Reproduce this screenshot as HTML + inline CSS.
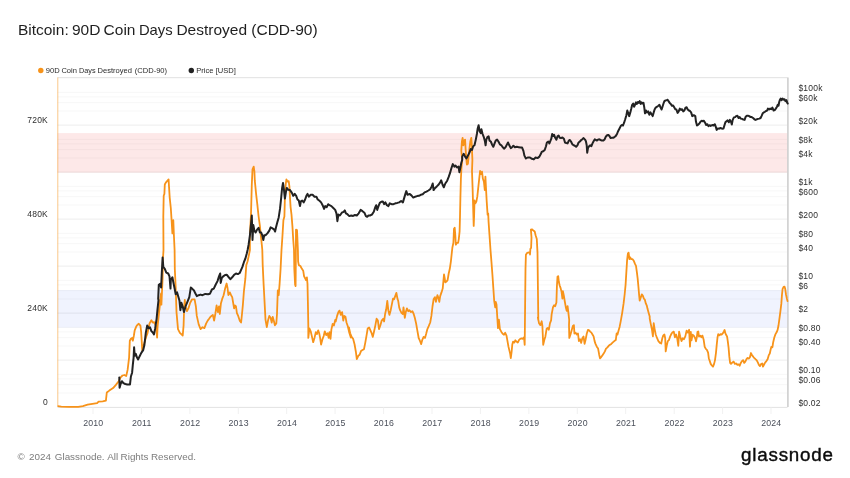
<!DOCTYPE html>
<html><head><meta charset="utf-8"><title>Bitcoin: 90D Coin Days Destroyed (CDD-90)</title>
<style>
html,body{margin:0;padding:0;background:#fff;}
body{width:850px;height:478px;overflow:hidden;position:relative;font-family:"Liberation Sans",sans-serif;}
svg text{font-family:"Liberation Sans",sans-serif;}
.title{font-size:15.5px;fill:#1f1f1f;}
.lg{font-size:7.55px;fill:#2a2a2a;}
.xl{font-size:8.75px;fill:#4a4f5a;letter-spacing:0.18px;}
.yl{font-size:8.5px;fill:#2e2e2e;letter-spacing:0.22px;}
.foot{font-size:9.85px;fill:#7c7c7c;}
.logo{font-size:18.8px;fill:#0c0c0c;letter-spacing:0.8px;stroke:#0c0c0c;stroke-width:0.4px;}
</style></head><body>
<svg width="850" height="478" viewBox="0 0 850 478" style="position:absolute;left:0;top:0">
<rect width="850" height="478" fill="#fff"/>
<defs><clipPath id="pc"><rect x="57.5" y="75.5" width="732.0" height="332.5"/></clipPath></defs>
<rect x="57.5" y="133.1" width="730.0" height="39.5" fill="#fde8e8"/>
<rect x="57.5" y="290.1" width="730.0" height="37.5" fill="#f0f3fe"/>
<line x1="57.5" x2="787.5" y1="92.3" y2="92.3" stroke="#000" stroke-opacity="0.035" stroke-width="1"/>
<line x1="57.5" x2="787.5" y1="96.9" y2="96.9" stroke="#000" stroke-opacity="0.035" stroke-width="1"/>
<line x1="57.5" x2="787.5" y1="102.7" y2="102.7" stroke="#000" stroke-opacity="0.035" stroke-width="1"/>
<line x1="57.5" x2="787.5" y1="111.0" y2="111.0" stroke="#000" stroke-opacity="0.035" stroke-width="1"/>
<line x1="57.5" x2="787.5" y1="125.2" y2="125.2" stroke="#000" stroke-opacity="0.035" stroke-width="1"/>
<line x1="57.5" x2="787.5" y1="139.3" y2="139.3" stroke="#000" stroke-opacity="0.035" stroke-width="1"/>
<line x1="57.5" x2="787.5" y1="143.9" y2="143.9" stroke="#000" stroke-opacity="0.035" stroke-width="1"/>
<line x1="57.5" x2="787.5" y1="149.7" y2="149.7" stroke="#000" stroke-opacity="0.035" stroke-width="1"/>
<line x1="57.5" x2="787.5" y1="158.0" y2="158.0" stroke="#000" stroke-opacity="0.035" stroke-width="1"/>
<line x1="57.5" x2="787.5" y1="172.2" y2="172.2" stroke="#000" stroke-opacity="0.035" stroke-width="1"/>
<line x1="57.5" x2="787.5" y1="186.3" y2="186.3" stroke="#000" stroke-opacity="0.035" stroke-width="1"/>
<line x1="57.5" x2="787.5" y1="190.9" y2="190.9" stroke="#000" stroke-opacity="0.035" stroke-width="1"/>
<line x1="57.5" x2="787.5" y1="196.7" y2="196.7" stroke="#000" stroke-opacity="0.035" stroke-width="1"/>
<line x1="57.5" x2="787.5" y1="205.0" y2="205.0" stroke="#000" stroke-opacity="0.035" stroke-width="1"/>
<line x1="57.5" x2="787.5" y1="219.2" y2="219.2" stroke="#000" stroke-opacity="0.035" stroke-width="1"/>
<line x1="57.5" x2="787.5" y1="233.3" y2="233.3" stroke="#000" stroke-opacity="0.035" stroke-width="1"/>
<line x1="57.5" x2="787.5" y1="237.9" y2="237.9" stroke="#000" stroke-opacity="0.035" stroke-width="1"/>
<line x1="57.5" x2="787.5" y1="243.7" y2="243.7" stroke="#000" stroke-opacity="0.035" stroke-width="1"/>
<line x1="57.5" x2="787.5" y1="252.0" y2="252.0" stroke="#000" stroke-opacity="0.035" stroke-width="1"/>
<line x1="57.5" x2="787.5" y1="266.2" y2="266.2" stroke="#000" stroke-opacity="0.035" stroke-width="1"/>
<line x1="57.5" x2="787.5" y1="280.3" y2="280.3" stroke="#000" stroke-opacity="0.035" stroke-width="1"/>
<line x1="57.5" x2="787.5" y1="284.9" y2="284.9" stroke="#000" stroke-opacity="0.035" stroke-width="1"/>
<line x1="57.5" x2="787.5" y1="290.7" y2="290.7" stroke="#000" stroke-opacity="0.035" stroke-width="1"/>
<line x1="57.5" x2="787.5" y1="299.0" y2="299.0" stroke="#000" stroke-opacity="0.035" stroke-width="1"/>
<line x1="57.5" x2="787.5" y1="313.2" y2="313.2" stroke="#000" stroke-opacity="0.035" stroke-width="1"/>
<line x1="57.5" x2="787.5" y1="327.3" y2="327.3" stroke="#000" stroke-opacity="0.035" stroke-width="1"/>
<line x1="57.5" x2="787.5" y1="331.9" y2="331.9" stroke="#000" stroke-opacity="0.035" stroke-width="1"/>
<line x1="57.5" x2="787.5" y1="337.7" y2="337.7" stroke="#000" stroke-opacity="0.035" stroke-width="1"/>
<line x1="57.5" x2="787.5" y1="346.0" y2="346.0" stroke="#000" stroke-opacity="0.035" stroke-width="1"/>
<line x1="57.5" x2="787.5" y1="360.2" y2="360.2" stroke="#000" stroke-opacity="0.035" stroke-width="1"/>
<line x1="57.5" x2="787.5" y1="374.3" y2="374.3" stroke="#000" stroke-opacity="0.035" stroke-width="1"/>
<line x1="57.5" x2="787.5" y1="378.9" y2="378.9" stroke="#000" stroke-opacity="0.035" stroke-width="1"/>
<line x1="57.5" x2="787.5" y1="384.7" y2="384.7" stroke="#000" stroke-opacity="0.035" stroke-width="1"/>
<line x1="57.5" x2="787.5" y1="393.0" y2="393.0" stroke="#000" stroke-opacity="0.035" stroke-width="1"/>
<line x1="57.5" x2="787.5" y1="360.0" y2="360.0" stroke="#000" stroke-opacity="0.04" stroke-width="1"/>
<line x1="57.5" x2="787.5" y1="313.0" y2="313.0" stroke="#000" stroke-opacity="0.04" stroke-width="1"/>
<line x1="57.5" x2="787.5" y1="266.0" y2="266.0" stroke="#000" stroke-opacity="0.04" stroke-width="1"/>
<line x1="57.5" x2="787.5" y1="219.0" y2="219.0" stroke="#000" stroke-opacity="0.04" stroke-width="1"/>
<line x1="57.5" x2="787.5" y1="172.0" y2="172.0" stroke="#000" stroke-opacity="0.04" stroke-width="1"/>
<line x1="57.5" x2="787.5" y1="125.0" y2="125.0" stroke="#000" stroke-opacity="0.04" stroke-width="1"/>
<line x1="57.5" x2="787.5" y1="78.0" y2="78.0" stroke="#000" stroke-opacity="0.04" stroke-width="1"/>
<line x1="57.5" x2="787.5" y1="77.5" y2="77.5" stroke="#e6e6e6" stroke-width="1"/>
<line x1="57.5" x2="787.5" y1="407.4" y2="407.4" stroke="#e2e2e2" stroke-width="1"/>
<line x1="787.9" x2="787.9" y1="77.5" y2="407.0" stroke="#cfcfcf" stroke-width="1.6"/>
<line x1="93.0" x2="93.0" y1="407.5" y2="414.0" stroke="#f1f1f1" stroke-width="1"/>
<text x="93.3" y="426.1" text-anchor="middle" class="xl">2010</text>
<line x1="141.4" x2="141.4" y1="407.5" y2="414.0" stroke="#f1f1f1" stroke-width="1"/>
<text x="141.7" y="426.1" text-anchor="middle" class="xl">2011</text>
<line x1="189.9" x2="189.9" y1="407.5" y2="414.0" stroke="#f1f1f1" stroke-width="1"/>
<text x="190.2" y="426.1" text-anchor="middle" class="xl">2012</text>
<line x1="238.3" x2="238.3" y1="407.5" y2="414.0" stroke="#f1f1f1" stroke-width="1"/>
<text x="238.6" y="426.1" text-anchor="middle" class="xl">2013</text>
<line x1="286.7" x2="286.7" y1="407.5" y2="414.0" stroke="#f1f1f1" stroke-width="1"/>
<text x="287.0" y="426.1" text-anchor="middle" class="xl">2014</text>
<line x1="335.1" x2="335.1" y1="407.5" y2="414.0" stroke="#f1f1f1" stroke-width="1"/>
<text x="335.4" y="426.1" text-anchor="middle" class="xl">2015</text>
<line x1="383.6" x2="383.6" y1="407.5" y2="414.0" stroke="#f1f1f1" stroke-width="1"/>
<text x="383.9" y="426.1" text-anchor="middle" class="xl">2016</text>
<line x1="432.0" x2="432.0" y1="407.5" y2="414.0" stroke="#f1f1f1" stroke-width="1"/>
<text x="432.3" y="426.1" text-anchor="middle" class="xl">2017</text>
<line x1="480.4" x2="480.4" y1="407.5" y2="414.0" stroke="#f1f1f1" stroke-width="1"/>
<text x="480.7" y="426.1" text-anchor="middle" class="xl">2018</text>
<line x1="528.9" x2="528.9" y1="407.5" y2="414.0" stroke="#f1f1f1" stroke-width="1"/>
<text x="529.2" y="426.1" text-anchor="middle" class="xl">2019</text>
<line x1="577.3" x2="577.3" y1="407.5" y2="414.0" stroke="#f1f1f1" stroke-width="1"/>
<text x="577.6" y="426.1" text-anchor="middle" class="xl">2020</text>
<line x1="625.7" x2="625.7" y1="407.5" y2="414.0" stroke="#f1f1f1" stroke-width="1"/>
<text x="626.0" y="426.1" text-anchor="middle" class="xl">2021</text>
<line x1="674.2" x2="674.2" y1="407.5" y2="414.0" stroke="#f1f1f1" stroke-width="1"/>
<text x="674.5" y="426.1" text-anchor="middle" class="xl">2022</text>
<line x1="722.6" x2="722.6" y1="407.5" y2="414.0" stroke="#f1f1f1" stroke-width="1"/>
<text x="722.9" y="426.1" text-anchor="middle" class="xl">2023</text>
<line x1="771.0" x2="771.0" y1="407.5" y2="414.0" stroke="#f1f1f1" stroke-width="1"/>
<text x="771.3" y="426.1" text-anchor="middle" class="xl">2024</text>
<text x="48.0" y="123.2" text-anchor="end" class="yl">720K</text>
<text x="48.0" y="217.2" text-anchor="end" class="yl">480K</text>
<text x="48.0" y="311.2" text-anchor="end" class="yl">240K</text>
<text x="48.0" y="405.2" text-anchor="end" class="yl">0</text>
<text x="798.4" y="91.0" class="yl">$100k</text>
<text x="798.4" y="101.4" class="yl">$60k</text>
<text x="798.4" y="123.9" class="yl">$20k</text>
<text x="798.4" y="142.6" class="yl">$8k</text>
<text x="798.4" y="156.7" class="yl">$4k</text>
<text x="798.4" y="185.0" class="yl">$1k</text>
<text x="798.4" y="195.4" class="yl">$600</text>
<text x="798.4" y="217.9" class="yl">$200</text>
<text x="798.4" y="236.6" class="yl">$80</text>
<text x="798.4" y="250.7" class="yl">$40</text>
<text x="798.4" y="279.0" class="yl">$10</text>
<text x="798.4" y="289.4" class="yl">$6</text>
<text x="798.4" y="311.9" class="yl">$2</text>
<text x="798.4" y="330.6" class="yl">$0.80</text>
<text x="798.4" y="344.7" class="yl">$0.40</text>
<text x="798.4" y="373.0" class="yl">$0.10</text>
<text x="798.4" y="383.4" class="yl">$0.06</text>
<text x="798.4" y="405.9" class="yl">$0.02</text>
<line x1="57.7" x2="57.7" y1="77.5" y2="406.4" stroke="#f7931a" stroke-opacity="0.36" stroke-width="1.4"/>
<path clip-path="url(#pc)" d="M57.8,406.2 L61.3,406.6 L68.8,406.8 L78.2,406.8 L82.9,406.2 L87.6,404.7 L92.4,403.8 L97.1,403.2 L98.6,401.7 L102.7,401.3 L105.9,400.6 L106.8,392.5 L109.3,390.6 L111.2,389.3 L113.1,388.1 L115.9,384.9 L118.7,381.2 L120.6,377.4 L122.5,375.5 L124.4,375.0 L126.2,376.1 L127.6,369.9 L129.1,357.6 L129.8,340.7 L130.9,338.8 L132.1,337.9 L132.8,340.7 L133.8,336.0 L134.7,330.4 L136.2,326.6 L137.5,324.7 L138.8,323.8 L140.4,325.6 L141.1,331.3 L141.7,340.7 L142.2,350.1 L146.2,336.7 L147.6,332.9 L149.5,323.5 L151.4,320.2 L152.8,322.6 L154.2,322.1 L156.1,326.4 L157.1,337.6 L157.5,328.2 L158.5,314.1 L159.9,304.7 L157.7,325.3 L159.2,306.5 L161.1,293.3 L161.4,304.6 L162.6,278.2 L162.9,259.4 L163.5,250.0 L163.3,216.5 L163.7,195.8 L164.4,193.9 L164.8,184.5 L165.8,182.6 L167.1,181.1 L168.6,179.4 L169.0,186.4 L169.7,197.6 L170.8,208.0 L171.6,220.2 L172.4,233.4 L173.3,220.2 L173.9,235.3 L174.6,250.0 L174.8,268.8 L175.7,287.6 L176.5,312.1 L178.0,329.1 L179.9,332.8 L181.8,334.7 L182.7,335.6 L183.6,325.3 L184.2,306.5 L184.8,299.9 L185.5,306.5 L187.0,311.2 L188.4,308.4 L190.2,302.7 L192.1,299.3 L194.6,299.3 L195.9,306.5 L196.8,315.9 L198.7,324.4 L200.6,329.1 L202.5,327.2 L204.4,328.1 L206.2,323.4 L207.7,320.6 L209.1,318.7 L210.0,317.4 L211.5,315.9 L212.8,314.9 L214.1,320.6 L215.3,314.0 L216.6,305.5 L217.9,312.1 L219.0,306.5 L219.8,314.0 L220.9,303.6 L222.2,298.9 L223.6,295.2 L225.1,288.6 L226.6,283.5 L227.5,287.6 L228.4,295.2 L229.8,292.4 L231.1,295.2 L232.2,297.1 L233.0,301.8 L234.1,308.4 L235.0,305.5 L236.0,306.5 L236.9,313.1 L238.2,315.9 L239.7,320.6 L241.1,322.5 L242.0,314.0 L242.9,304.6 L243.9,291.4 L245.4,278.2 L246.3,265.1 L247.6,261.3 L248.8,255.6 L249.9,250.0 L249.9,235.3 L251.0,214.6 L251.8,184.5 L252.5,169.4 L253.7,166.6 L254.4,171.3 L254.8,180.7 L256.1,193.9 L257.4,205.2 L258.6,216.5 L259.9,225.9 L260.8,235.3 L261.8,244.7 L262.3,250.0 L262.7,265.1 L263.6,283.9 L264.6,302.7 L265.5,319.6 L266.8,327.2 L268.0,320.6 L269.3,315.9 L270.6,317.8 L271.7,322.5 L272.7,316.8 L274.0,321.5 L274.9,325.3 L276.3,323.4 L277.0,314.0 L277.8,290.5 L278.7,295.2 L279.6,283.9 L280.6,268.8 L281.5,250.0 L282.5,235.3 L283.4,220.2 L284.4,216.5 L284.9,197.6 L285.7,184.5 L286.4,179.4 L287.6,181.6 L288.7,181.1 L289.4,186.4 L290.0,197.6 L290.6,207.1 L291.5,214.6 L292.4,225.9 L293.2,239.1 L294.0,250.0 L294.3,268.8 L295.1,284.8 L295.6,286.1 L295.8,261.3 L296.0,229.6 L297.0,230.0 L297.5,240.9 L297.9,250.0 L298.1,261.3 L298.8,265.1 L300.4,266.0 L301.9,268.8 L303.2,270.7 L304.1,276.4 L305.1,278.2 L306.0,280.1 L306.9,277.3 L307.5,283.9 L307.9,302.7 L308.3,325.3 L308.3,337.9 L309.4,328.5 L310.7,331.3 L311.6,335.1 L313.2,342.2 L314.5,337.9 L315.8,332.2 L316.9,334.1 L318.2,330.4 L319.2,333.2 L320.1,337.9 L321.1,344.5 L322.6,338.8 L323.7,336.0 L324.8,331.3 L326.3,335.1 L327.6,333.2 L328.6,337.9 L329.5,332.2 L330.5,338.8 L331.4,329.4 L332.7,323.8 L333.9,325.6 L335.2,320.0 L335.7,321.5 L337.1,315.9 L338.4,312.1 L339.5,310.6 L340.8,314.9 L342.1,312.1 L343.3,320.6 L344.2,315.9 L345.5,316.8 L346.5,322.5 L347.8,326.2 L349.3,332.8 L350.8,337.5 L348.9,327.5 L350.2,333.2 L351.6,336.9 L353.1,338.8 L354.6,344.5 L355.9,352.0 L356.8,359.2 L358.3,355.8 L359.6,354.8 L361.0,351.1 L362.5,350.1 L364.0,349.2 L365.3,342.6 L366.6,335.1 L367.7,328.5 L369.1,327.5 L370.0,329.4 L371.5,332.8 L372.8,336.9 L374.1,331.3 L375.3,325.6 L376.6,318.7 L377.9,320.6 L379.0,329.1 L380.4,325.3 L381.7,320.6 L383.2,318.7 L384.1,321.5 L385.1,314.0 L386.2,309.3 L387.3,300.8 L388.3,310.2 L389.4,314.9 L390.7,310.2 L391.8,304.6 L393.0,298.6 L394.1,299.3 L395.2,296.1 L396.4,292.9 L397.5,298.9 L398.2,300.8 L399.2,307.4 L400.1,310.2 L401.6,313.1 L402.8,314.0 L403.5,307.4 L404.8,317.8 L405.8,312.1 L406.9,308.4 L408.2,311.2 L409.5,310.2 L411.0,312.1 L412.4,311.2 L413.7,314.0 L414.8,317.8 L416.1,323.4 L417.4,330.9 L418.6,337.5 L418.6,337.9 L419.9,340.7 L421.2,344.1 L422.3,339.8 L423.6,336.9 L425.0,337.9 L426.1,334.1 L427.4,329.1 L428.7,326.2 L430.2,322.5 L431.4,315.9 L432.5,306.5 L433.6,299.3 L434.9,297.1 L435.9,301.8 L437.4,295.2 L438.5,298.0 L439.3,301.8 L440.2,296.1 L441.5,292.4 L442.7,288.6 L443.4,281.1 L444.0,274.5 L444.7,278.2 L445.3,282.4 L446.4,281.6 L447.6,280.1 L448.7,273.5 L449.8,268.8 L450.9,261.3 L451.9,251.9 L452.4,247.5 L453.4,242.8 L454.0,228.7 L454.7,227.8 L455.3,235.3 L455.8,244.7 L457.0,242.8 L458.1,242.8 L458.8,239.1 L459.6,231.5 L460.0,216.5 L460.4,197.6 L460.9,178.8 L461.5,167.5 L462.2,160.0 L461.3,150.9 L461.9,141.5 L462.6,137.8 L463.4,145.3 L464.1,140.6 L465.1,139.6 L465.6,149.1 L466.4,160.0 L466.9,164.7 L467.9,163.8 L469.4,149.1 L470.3,141.5 L471.3,137.8 L471.8,145.3 L472.4,160.0 L472.0,171.3 L472.6,188.2 L473.2,208.9 L473.7,225.9 L474.1,216.5 L474.5,200.5 L475.4,203.3 L476.4,201.4 L477.3,196.7 L478.2,188.2 L479.2,178.8 L480.1,170.9 L481.1,174.1 L482.0,171.7 L482.9,178.8 L483.9,181.6 L484.8,190.1 L485.4,176.6 L486.0,188.2 L486.7,201.4 L487.6,214.6 L488.2,213.6 L488.6,222.1 L489.5,235.3 L490.5,250.0 L491.4,261.3 L492.4,274.5 L493.3,287.6 L494.2,300.8 L495.2,307.4 L495.7,301.8 L496.5,304.6 L497.2,315.9 L498.0,328.1 L498.9,319.6 L499.9,329.1 L501.4,331.9 L502.7,333.8 L504.0,334.7 L505.2,332.8 L506.5,335.6 L507.4,340.7 L508.4,346.4 L509.3,350.1 L510.2,353.9 L510.8,358.2 L511.6,352.0 L512.3,344.5 L513.1,341.6 L514.2,342.6 L515.3,340.3 L516.4,341.6 L517.8,342.6 L519.1,339.8 L520.2,338.8 L521.5,338.4 L522.8,338.8 L524.0,337.3 L524.7,344.8 L525.1,306.5 L525.5,268.8 L525.9,254.7 L527.2,252.8 L529.1,252.3 L530.0,252.3 L530.0,254.5 L530.4,248.8 L531.1,247.9 L531.5,237.5 L530.9,229.6 L531.9,229.3 L533.4,230.6 L534.7,231.5 L535.6,235.3 L536.8,239.1 L537.5,252.6 L537.9,286.5 L538.3,320.0 L537.9,317.5 L539.0,323.2 L540.4,325.1 L541.7,321.3 L542.4,326.0 L543.2,344.8 L544.3,340.1 L545.4,336.4 L546.6,328.8 L547.7,327.9 L548.8,329.8 L550.0,323.2 L551.1,320.4 L551.6,314.7 L553.0,307.2 L554.1,305.3 L555.2,306.2 L556.4,302.5 L556.9,286.5 L557.5,276.7 L558.2,276.1 L558.8,281.8 L559.7,285.5 L560.7,288.4 L561.6,292.1 L562.4,298.7 L562.9,291.2 L563.9,295.9 L564.8,301.5 L565.8,307.2 L566.7,310.9 L567.6,306.2 L568.4,312.8 L569.2,320.0 L569.0,325.1 L569.3,337.9 L570.5,334.5 L571.8,329.8 L572.9,326.0 L573.9,325.1 L574.4,333.5 L575.6,332.6 L576.7,334.5 L578.0,333.5 L578.9,341.1 L580.1,339.2 L581.2,342.9 L582.3,338.2 L583.5,336.4 L584.6,343.9 L585.7,339.2 L586.8,333.5 L588.0,329.8 L589.1,330.3 L590.2,331.6 L591.4,332.6 L592.5,334.5 L593.6,336.4 L594.6,341.1 L595.5,343.9 L596.8,346.7 L598.1,348.6 L599.1,354.2 L600.0,358.4 L601.2,357.1 L602.5,355.2 L603.8,353.3 L604.9,351.4 L606.0,348.6 L607.2,347.6 L608.7,345.8 L610.0,344.8 L611.3,343.9 L612.8,342.4 L614.3,341.1 L615.8,340.1 L616.6,333.5 L617.5,334.5 L618.5,330.7 L619.6,326.9 L620.7,321.3 L622.2,312.8 L623.6,303.4 L624.7,294.0 L625.6,284.6 L626.4,271.4 L627.1,260.1 L627.9,253.5 L628.6,252.6 L629.4,259.2 L630.1,257.3 L631.3,259.2 L632.6,259.2 L633.9,261.1 L635.0,263.9 L636.0,265.8 L636.9,272.4 L637.7,278.9 L638.4,286.5 L639.2,295.9 L639.7,300.6 L640.7,297.8 L641.8,294.4 L642.9,295.9 L643.9,298.7 L644.8,299.6 L645.8,303.4 L646.7,305.3 L647.6,309.1 L648.6,312.8 L649.7,316.6 L649.7,318.5 L650.8,324.1 L652.0,329.8 L652.9,336.4 L653.7,323.2 L654.6,328.8 L655.7,334.5 L657.1,338.2 L658.4,341.1 L659.9,342.9 L661.2,343.5 L662.3,338.2 L663.3,335.4 L664.4,334.5 L665.2,338.2 L665.7,351.4 L666.7,345.8 L667.8,341.1 L668.9,340.1 L670.2,336.4 L671.6,333.5 L672.7,332.2 L673.8,331.6 L674.9,337.3 L676.1,334.5 L677.2,338.2 L678.3,345.8 L679.1,331.6 L680.2,336.4 L681.5,341.1 L682.8,338.2 L684.0,339.2 L685.3,336.4 L686.6,330.7 L687.7,332.6 L689.1,329.8 L690.0,346.6 L690.8,331.9 L691.5,340.4 L692.6,334.7 L693.8,335.6 L695.3,338.5 L696.0,341.3 L696.8,337.5 L697.5,331.9 L698.3,331.5 L699.0,336.6 L700.2,335.6 L701.3,337.2 L702.4,335.6 L703.6,339.4 L704.7,346.9 L705.8,348.8 L706.9,349.8 L708.1,352.6 L708.8,358.2 L709.8,361.1 L710.7,363.9 L711.8,365.4 L713.0,366.7 L714.1,363.9 L715.0,360.1 L716.0,352.6 L716.7,345.1 L717.5,337.5 L718.2,334.1 L719.4,335.3 L720.5,334.1 L721.6,334.7 L722.8,333.4 L723.9,331.5 L724.6,330.0 L725.4,333.4 L726.1,334.7 L727.1,336.6 L727.8,341.3 L728.6,347.9 L729.3,356.4 L730.1,362.9 L731.0,363.9 L732.4,362.4 L733.7,361.6 L734.8,363.9 L736.1,363.5 L737.4,364.8 L738.6,364.3 L739.7,365.8 L740.8,362.9 L742.0,361.1 L743.1,360.1 L744.2,362.9 L745.3,361.6 L746.5,359.2 L747.6,357.9 L748.7,358.6 L749.9,357.3 L751.0,353.0 L752.1,355.4 L753.2,356.7 L754.4,358.2 L755.5,359.2 L756.6,360.1 L757.8,362.4 L758.9,364.8 L760.0,366.1 L761.2,363.9 L762.3,363.5 L763.0,366.7 L764.2,364.3 L765.3,362.4 L766.4,361.1 L767.6,359.2 L768.7,355.4 L769.8,353.5 L770.6,349.8 L771.3,346.9 L772.4,347.3 L773.2,342.2 L774.3,337.5 L775.5,334.1 L776.6,332.3 L777.5,330.2 L778.5,325.5 L779.4,318.9 L780.4,311.4 L781.3,303.9 L782.0,294.5 L782.6,288.8 L783.6,286.9 L784.5,286.6 L785.2,288.8 L786.0,294.5 L786.8,298.2 L787.5,301.1" fill="none" stroke="#f7931a" stroke-width="1.8" stroke-linejoin="round" stroke-linecap="round"/>
<path clip-path="url(#pc)" d="M119.3,377.4 L119.6,387.8 L120.6,384.0 L121.9,381.2 L123.4,383.1 L125.3,384.0 L127.2,384.4 L130.0,384.4 L130.9,376.5 L132.1,372.7 L132.8,365.2 L133.6,357.6 L134.1,347.3 L134.7,355.8 L135.8,353.9 L137.0,357.6 L138.1,359.5 L139.4,356.7 L141.3,352.9 L143.2,350.1 L144.4,345.0 L145.8,332.9 L147.2,325.4 L148.6,328.2 L150.0,327.3 L151.4,331.1 L152.8,332.5 L154.0,334.4 L155.2,328.2 L156.6,318.8 L157.5,309.4 L158.5,300.0 L158.2,298.9 L158.8,284.8 L160.1,283.9 L161.1,287.6 L161.8,272.6 L162.6,257.5 L163.3,266.9 L164.8,268.8 L166.3,272.6 L168.2,273.5 L169.5,276.4 L170.5,288.6 L170.8,280.1 L172.4,277.3 L173.3,282.0 L174.8,289.5 L175.7,294.2 L177.1,292.4 L178.4,297.1 L179.5,300.8 L180.4,310.2 L181.4,302.7 L182.7,306.5 L184.0,312.1 L185.5,306.5 L187.4,301.8 L189.3,297.1 L190.8,287.6 L192.1,288.6 L194.0,290.5 L195.3,293.3 L196.8,296.1 L198.7,295.2 L200.6,294.6 L202.5,295.2 L205.3,293.9 L208.1,294.2 L210.0,293.7 L211.9,289.5 L213.8,288.6 L215.6,284.8 L217.5,281.1 L219.0,276.4 L220.2,273.5 L220.7,282.9 L221.7,278.2 L223.2,276.4 L225.1,275.0 L226.9,274.8 L228.8,277.3 L230.3,279.2 L232.2,277.3 L234.1,274.8 L236.0,273.5 L237.9,274.1 L239.7,273.0 L241.1,269.8 L242.4,266.9 L243.9,262.2 L245.4,258.5 L246.7,253.8 L247.6,250.0 L248.6,244.7 L249.9,235.3 L251.0,224.0 L251.8,215.5 L252.5,240.0 L253.3,224.9 L254.4,230.6 L255.6,232.5 L257.1,229.6 L258.6,227.8 L259.9,232.5 L261.2,232.5 L262.3,235.3 L263.3,240.0 L264.2,235.3 L265.5,235.3 L267.4,233.4 L269.3,230.6 L270.6,227.4 L272.1,228.1 L274.0,229.3 L275.1,231.5 L275.9,227.8 L277.4,222.1 L278.7,217.4 L280.0,208.9 L281.2,197.6 L282.1,188.2 L283.0,183.0 L284.0,190.1 L284.9,198.6 L285.9,192.0 L286.8,187.9 L288.1,189.7 L290.0,190.1 L291.9,192.9 L293.2,195.8 L294.7,193.9 L296.2,195.8 L297.5,199.5 L298.8,200.5 L300.0,206.1 L300.9,201.4 L302.2,200.5 L303.7,202.4 L305.1,199.5 L306.4,195.8 L307.5,193.9 L308.8,196.7 L310.7,194.8 L312.6,194.8 L314.5,196.7 L316.4,196.7 L317.7,199.5 L319.2,200.5 L321.1,202.4 L322.6,205.2 L324.1,208.9 L325.2,206.1 L326.7,207.1 L328.2,204.2 L329.5,205.2 L331.4,206.1 L333.3,208.0 L335.2,209.9 L336.5,213.6 L337.4,221.2 L338.4,214.6 L339.9,215.5 L341.8,212.7 L343.6,211.8 L344.8,210.4 L345.9,213.3 L347.4,214.2 L349.3,216.1 L351.2,215.5 L353.1,215.9 L354.9,215.0 L356.8,215.5 L358.7,213.3 L360.6,209.9 L362.5,211.2 L364.4,212.7 L365.9,216.1 L367.2,216.8 L368.5,215.5 L370.0,215.5 L371.9,214.6 L373.8,211.8 L375.3,207.1 L376.2,205.2 L377.2,209.9 L378.5,206.1 L379.8,202.9 L381.3,201.8 L382.8,201.4 L384.1,204.2 L385.4,202.4 L386.9,205.2 L388.4,206.1 L389.8,203.3 L391.6,204.2 L393.5,204.2 L395.4,203.3 L397.3,202.9 L399.2,202.4 L401.1,201.0 L402.9,202.4 L404.3,197.6 L405.4,193.9 L406.3,191.1 L407.6,194.8 L409.5,193.9 L411.4,195.4 L413.3,197.6 L415.2,196.7 L417.1,196.1 L418.9,195.8 L420.8,194.8 L422.7,194.3 L424.6,192.4 L426.5,191.6 L428.4,190.5 L430.2,189.2 L431.7,186.4 L432.7,183.5 L433.6,190.1 L434.9,188.2 L436.8,186.4 L438.7,184.5 L440.0,182.6 L441.2,180.3 L442.5,184.5 L443.8,187.3 L445.3,183.5 L447.2,180.7 L448.7,176.9 L450.0,173.2 L451.3,168.5 L452.8,164.1 L454.3,166.6 L455.6,165.6 L457.0,167.5 L458.5,166.6 L459.4,172.2 L460.4,167.5 L461.3,162.8 L462.2,160.0 L462.2,156.6 L463.7,153.8 L465.1,156.6 L466.4,158.5 L467.9,155.6 L469.4,152.8 L470.7,149.1 L472.0,150.0 L473.2,146.2 L474.5,145.3 L475.8,139.6 L476.9,134.0 L477.7,128.4 L478.6,125.2 L479.6,131.2 L480.7,133.1 L481.4,129.3 L482.6,134.0 L483.7,136.8 L484.8,140.6 L485.6,145.3 L486.3,139.6 L487.5,136.8 L488.6,136.3 L489.5,140.6 L490.8,141.5 L492.0,144.4 L493.3,146.8 L494.6,143.4 L495.7,140.6 L497.1,139.6 L498.4,141.5 L499.9,144.4 L501.4,145.3 L502.7,147.2 L504.0,148.7 L505.5,147.2 L507.0,144.4 L508.0,142.5 L509.3,145.3 L510.8,148.1 L512.1,147.2 L513.4,145.7 L514.9,147.2 L516.8,146.8 L518.7,147.2 L520.6,147.6 L522.1,147.6 L523.4,150.9 L524.4,155.6 L525.9,158.5 L527.7,157.5 L530.0,157.5 L531.9,158.8 L533.8,159.4 L535.6,157.5 L537.5,158.1 L539.4,156.6 L540.9,153.8 L541.7,151.9 L543.2,151.3 L544.7,150.0 L546.0,146.2 L546.9,142.5 L548.3,141.5 L549.4,143.4 L550.3,141.2 L551.3,138.7 L552.2,134.0 L553.3,135.9 L554.1,134.9 L555.2,137.8 L556.4,139.6 L557.5,136.3 L558.6,135.5 L559.7,137.8 L561.1,138.1 L562.4,137.4 L563.9,138.7 L565.0,142.5 L566.3,143.0 L567.6,143.4 L568.8,140.6 L569.9,140.0 L571.0,141.5 L572.4,144.4 L573.7,145.3 L574.8,145.7 L576.1,146.8 L577.4,145.3 L578.6,142.5 L579.9,141.5 L581.2,140.0 L582.3,139.3 L583.6,138.1 L585.0,139.6 L585.9,141.2 L586.7,145.3 L587.2,152.8 L588.0,148.1 L589.1,146.2 L590.2,145.3 L591.4,146.2 L592.5,143.4 L593.6,141.2 L594.8,139.3 L595.9,140.0 L597.0,140.6 L598.1,139.6 L599.3,139.3 L600.6,140.0 L601.9,140.6 L603.4,140.6 L604.5,139.6 L605.7,136.8 L606.8,135.5 L608.1,134.9 L609.4,135.9 L610.6,138.1 L611.9,137.8 L613.2,137.8 L614.7,136.8 L615.8,135.9 L617.0,134.0 L618.1,131.2 L619.4,128.7 L620.7,126.1 L621.9,125.0 L623.0,125.5 L624.1,122.7 L625.2,119.3 L626.4,115.2 L627.3,110.5 L628.3,113.3 L629.2,116.1 L630.3,112.4 L631.3,108.6 L632.2,104.8 L633.2,103.5 L634.1,106.7 L635.0,104.8 L636.0,102.4 L636.9,103.9 L637.9,102.0 L638.8,102.9 L639.7,101.1 L640.7,103.9 L641.6,102.4 L642.6,103.5 L643.5,102.9 L644.3,107.6 L645.0,113.3 L646.0,110.5 L647.1,112.4 L648.2,111.4 L649.3,114.8 L650.5,112.4 L651.6,114.2 L652.7,116.1 L653.7,112.4 L654.6,109.5 L655.7,107.6 L657.1,106.7 L658.4,105.8 L659.5,104.8 L660.6,107.6 L661.6,109.5 L662.5,106.7 L663.5,103.5 L664.4,101.1 L665.5,100.5 L666.7,100.1 L667.6,99.7 L668.5,101.1 L669.7,102.9 L670.8,103.9 L671.9,105.8 L673.1,105.4 L674.2,107.3 L675.3,109.2 L676.4,109.5 L677.6,112.9 L678.7,111.4 L679.8,108.6 L681.0,109.9 L682.1,109.2 L683.2,111.4 L684.4,110.5 L685.5,107.6 L686.6,107.3 L687.7,109.5 L688.9,110.5 L690.0,111.0 L691.1,112.4 L692.3,116.1 L693.8,115.2 L695.3,116.1 L696.0,121.8 L697.0,125.5 L698.3,124.6 L699.4,123.6 L700.5,121.8 L701.7,120.8 L702.8,121.2 L703.9,120.8 L705.1,122.7 L706.2,125.0 L707.3,124.2 L708.4,126.1 L709.6,125.2 L710.7,125.9 L712.2,125.0 L713.5,125.5 L714.8,124.2 L716.0,127.4 L716.7,129.9 L717.9,128.4 L719.2,128.7 L720.5,128.0 L722.0,128.7 L723.5,128.4 L724.4,125.5 L725.4,122.3 L726.5,121.2 L727.6,120.4 L728.8,122.3 L729.9,119.9 L731.0,121.8 L731.8,124.6 L732.7,119.9 L733.9,117.4 L735.2,117.1 L736.3,116.1 L737.4,115.7 L738.6,118.0 L739.7,117.1 L740.8,118.6 L742.0,118.9 L743.3,119.5 L744.6,119.9 L745.7,116.7 L746.8,115.7 L748.0,115.7 L749.3,116.1 L750.6,117.1 L751.7,117.1 L753.1,118.0 L754.4,119.3 L755.5,119.9 L756.8,119.3 L758.1,118.9 L759.3,118.6 L760.6,118.0 L761.5,116.1 L762.7,113.3 L763.8,112.4 L764.9,111.8 L766.0,111.0 L767.2,110.5 L767.9,108.6 L769.1,109.5 L770.2,108.6 L771.3,109.2 L772.4,107.6 L773.6,110.5 L774.7,110.1 L775.8,108.6 L777.0,106.7 L777.7,104.8 L778.5,105.8 L779.2,102.0 L780.0,99.7 L780.7,98.6 L781.7,100.1 L782.6,98.6 L783.6,99.7 L784.5,99.2 L785.4,101.1 L786.4,100.1 L787.1,102.4 L787.7,103.5" fill="none" stroke="#222222" stroke-width="2.0" stroke-linejoin="round" stroke-linecap="round"/>
<circle cx="40.8" cy="70.5" r="2.7" fill="#f7931a"/>
<text y="73.2" class="lg"><tspan x="45.8">90D</tspan><tspan x="61.4">Coin</tspan><tspan x="79.0" style="font-size:7.25px">Days</tspan><tspan x="97.6">Destroyed</tspan><tspan x="134.8">(CDD-90)</tspan></text>
<circle cx="191.3" cy="70.5" r="2.7" fill="#222"/>
<text y="73.2" class="lg"><tspan x="196.3">Price</tspan><tspan x="215.7">[USD]</tspan></text>
<text y="35.1" class="title"><tspan x="17.9">Bitcoin:</tspan><tspan x="71.9">90D</tspan><tspan x="103.6">Coin</tspan><tspan x="138.9" style="font-size:14.8px">Days</tspan><tspan x="176.4">Destroyed</tspan><tspan x="251.3">(CDD-90)</tspan></text>
<text y="460.0" class="foot"><tspan x="17.6">©</tspan><tspan x="29.0">2024</tspan><tspan x="54.8">Glassnode.</tspan><tspan x="107.3">All</tspan><tspan x="120.6">Rights</tspan><tspan x="151.0">Reserved.</tspan></text>
<text x="741" y="460.6" class="logo">glassnode</text>
</svg>
</body></html>
